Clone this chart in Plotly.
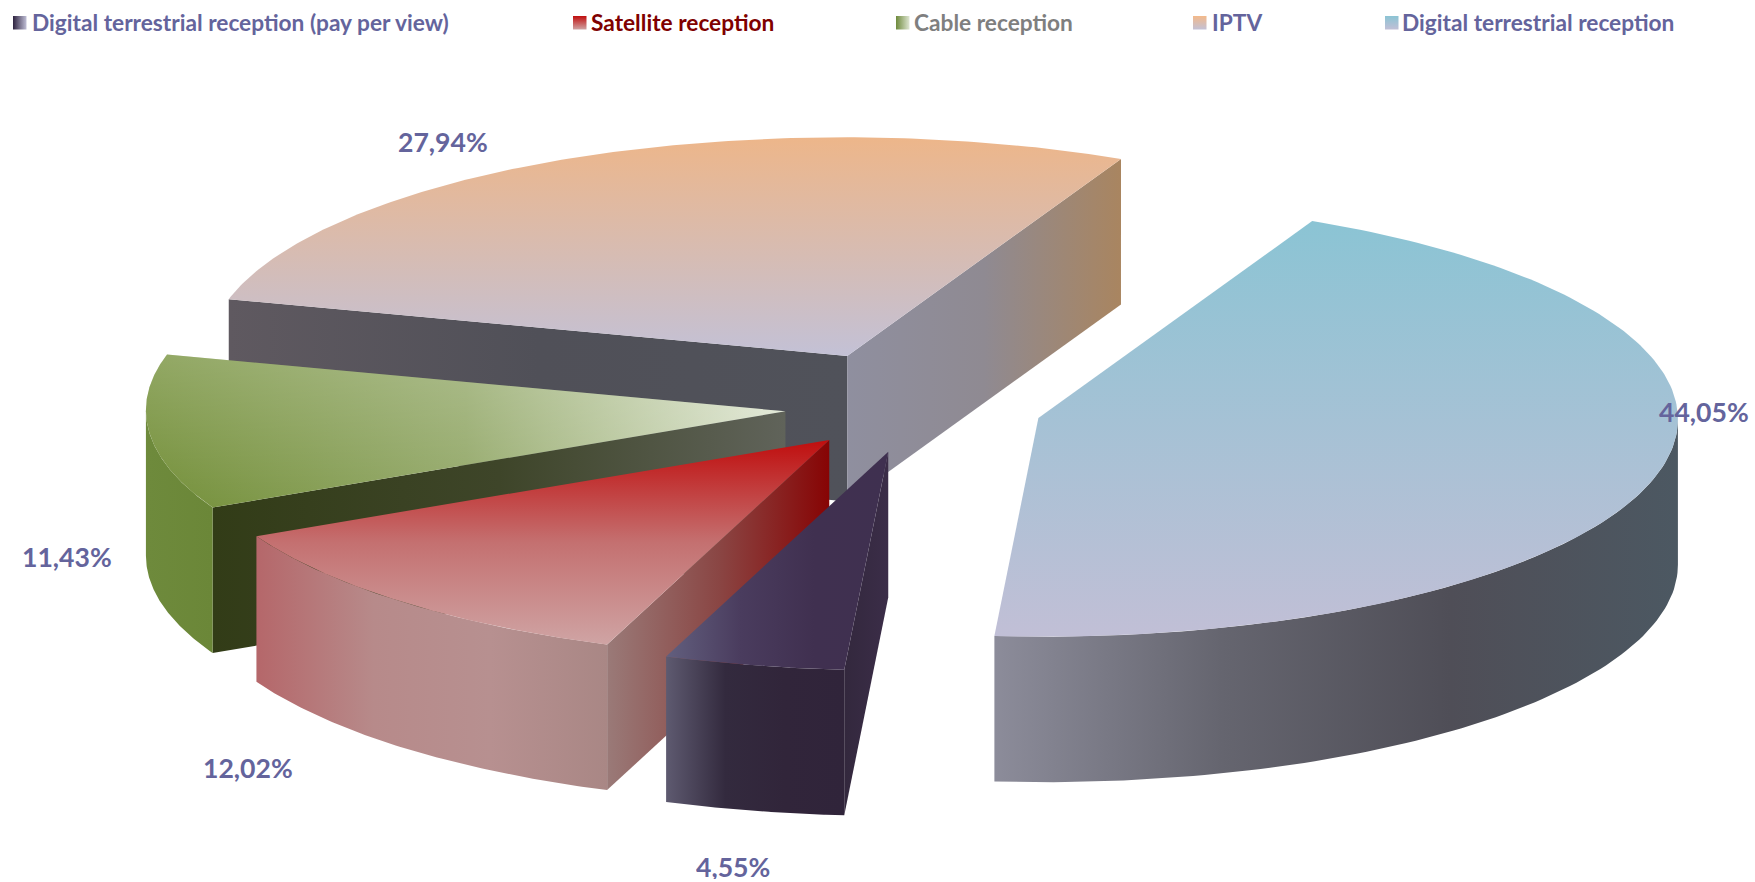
import numpy as np
import plotly.graph_objects as go

# ---- data -------------------------------------------------------------
labels = ["Digital terrestrial reception (pay per view)", "Satellite reception",
          "Cable reception", "IPTV", "Digital terrestrial reception"]
values = [4.55, 12.02, 11.43, 27.94, 44.05]
value_text = ["4,55%", "12,02%", "11,43%", "27,94%", "44,05%"]
pull = [0.21, 0.204, 0.206, 0.257, 0.197]

# ---- projection of the tilted pie on the page (pixels) -----------------
W, H = 1755, 882
CX, CY = 916.5, 407.0
AX, BX = -44.0, -638.0
AY, BY = 218.0, -16.2
DEPTH = 145.5
VIS_START = np.degrees(np.arctan2(-BX, -AX)) - 180  # silhouette of the side wall


def project(phi_deg):
    p = np.radians(phi_deg)
    return AX * np.cos(p) + BX * np.sin(p), AY * np.cos(p) + BY * np.sin(p)


# ---- styles -----------------------------------------------------------
def scale(*cols):
    n = len(cols) - 1
    return [[i / n, c] for i, c in enumerate(cols)]


# with the reversed page axis a "vertical" gradient runs from the bottom up
styles = [
    dict(top=("horizontal", scale("#625f7e", "#4a3c5e", "#403050", "#3f3050")),
         outer=scale("#5e5a70", "#332a3e", "#31253a", "#30243a"),
         cut0=scale("#33283d", "#3b2d48"), cut1=None),
    dict(top=("vertical", scale("#cfa4a4", "#c47070", "#c00e0e")),
         outer=scale("#b5676a", "#b78a8a", "#b79090", "#a98785"),
         cut0=scale("#9a7a78", "#8a4644", "#870404"), cut1=None),
    dict(top=("horizontal", scale("#738f38", "#94a96a", "#dfe6d3")),
         overlay=scale("rgba(255,255,255,0)", "rgba(255,255,255,0.22)"),
         outer=scale("#6e8a3c", "#6b8738"),
         cut0=scale("#323c17", "#3e4529", "#60635a"), cut1=None),
    dict(top=("vertical", scale("#c3c1d6", "#edb68a")),
         outer=None,
         cut0=scale("#5f5960", "#505058", "#50525a"),
         cut1=scale("#8f8f9f", "#8f8a92", "#a98560")),
    dict(top=("vertical", scale("#c1bfd6", "#8bc4d4")),
         outer=scale("#8c8c9a", "#65656f", "#4f4e57", "#4c5862"),
         cut0=None, cut1=None),
]


def poly(fig, x, y, colorscale, kind="horizontal"):
    fig.add_trace(go.Scatter(
        x=list(x), y=list(y), mode="lines", fill="toself", line=dict(width=0),
        fillgradient=dict(type=kind, colorscale=colorscale),
        hoverinfo="skip", showlegend=False))


fig = go.Figure()

# angular extents come from the values
total = sum(values)
edges = np.concatenate([[0], np.cumsum(values) / total * 360])
slices = []
for i, v in enumerate(values):
    a0, a1 = edges[i], edges[i + 1]
    mid = (a0 + a1) / 2
    mx, my = project(mid)
    slices.append((a0, a1, CX + pull[i] * mx, CY + pull[i] * my))

# painter's order: back slices first
for i in [3, 4, 2, 1, 0]:
    a0, a1, ox, oy = slices[i]
    st = styles[i]
    # cut faces
    for ang, key in ((a0, "cut0"), (a1, "cut1")):
        if st[key] is not None:
            dx, dy = project(ang)
            xs = [ox, ox + dx, ox + dx, ox, ox]
            ys = [oy, oy + dy, oy + dy + DEPTH, oy + DEPTH, oy]
            poly(fig, xs, ys, st[key])
    # outer curved wall (only the part that faces the viewer)
    if st["outer"] is not None:
        lo, hi = a0, a1
        if lo < VIS_START + 180:
            hi = min(hi, VIS_START + 180)
        else:
            lo = max(lo, VIS_START + 360)
        t = np.linspace(lo, hi, 90)
        dx, dy = project(t)
        xs = np.concatenate([ox + dx, (ox + dx)[::-1]])
        ys = np.concatenate([oy + dy, (oy + dy + DEPTH)[::-1]])
        poly(fig, xs, ys, st["outer"])
    # top face
    t = np.linspace(a0, a1, 160)
    dx, dy = project(t)
    xs = np.concatenate([[ox], ox + dx, [ox]])
    ys = np.concatenate([[oy], oy + dy, [oy]])
    poly(fig, xs, ys, st["top"][1], st["top"][0])
    if "overlay" in st:
        poly(fig, xs, ys, st["overlay"], "vertical")

# legend row
legend_swatch_x = [13, 573, 896, 1193, 1385]
legend_text_x = [30, 589, 912, 1210, 1400]
legend_colors = ["#64649c", "#7f0000", "#7f7f7f", "#64649c", "#64649c"]
swatch_scales = [scale("#2e2340", "#c0bfd6"), scale("#cfa4a4", "#c00e0e"),
                 scale("#6e8a3c", "#dfe6d3"), scale("#c3c1d6", "#f3b98a"),
                 scale("#c1bfd6", "#8bc4d4")]
swatch_kind = ["horizontal", "vertical", "horizontal", "vertical", "vertical"]
annotations = []
for i, lab in enumerate(labels):
    sx = legend_swatch_x[i]
    poly(fig, [sx, sx + 13.5, sx + 13.5, sx, sx], [16, 16, 29.5, 29.5, 16],
         swatch_scales[i], swatch_kind[i])
    annotations.append(dict(x=legend_text_x[i], y=22.5, text="<b>%s</b>" % lab, showarrow=False,
                            xanchor="left", yanchor="middle",
                            font=dict(family="Lato", size=22.7, color=legend_colors[i])))

# value labels
label_pos = [(733, 881), (248, 768), (67, 557), (443, 142), (1704, 412)]
label_anchor = ["bottom", "middle", "middle", "middle", "middle"]
label_height = [24, None, None, None, None]
for (lx, ly), txt, anc, hgt in zip(label_pos, value_text, label_anchor, label_height):
    annotations.append(dict(x=lx, y=ly, text="<b>%s</b>" % txt, showarrow=False,
                            xanchor="center", yanchor=anc, height=hgt,
                            font=dict(family="Lato", size=26.6, color="#64649c")))

fig.update_layout(
    width=W, height=H, margin=dict(l=0, r=0, t=0, b=0),
    paper_bgcolor="white", plot_bgcolor="white", showlegend=False,
    xaxis=dict(range=[0, W], visible=False, fixedrange=True),
    yaxis=dict(range=[H, 0], visible=False, fixedrange=True),
    annotations=annotations,
)
fig.write_html("out.html", post_script="document.body.style.margin='0';document.body.style.overflow='hidden';",
               config=dict(displayModeBar=False))
